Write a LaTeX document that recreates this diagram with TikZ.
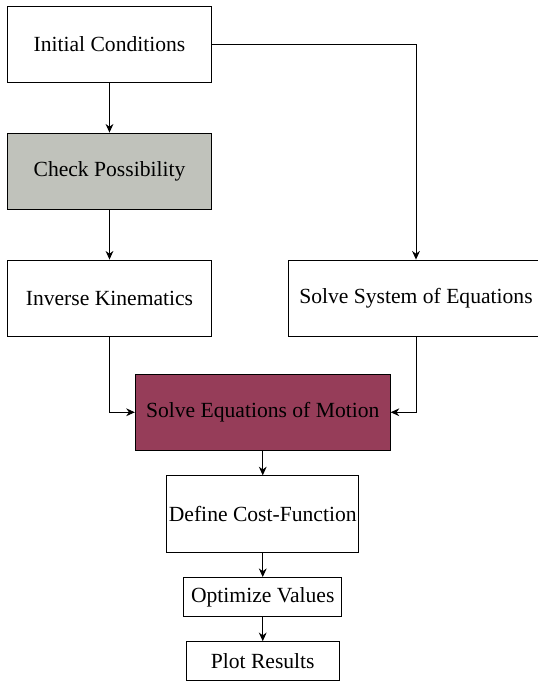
\documentclass[tikz,border=0pt]{standalone}
\usepackage{fontspec}
\setmainfont{Liberation Serif}
\usetikzlibrary{positioning,calc,arrows.meta}
\definecolor{checkgray}{RGB}{192,194,187}
\definecolor{motionred}{RGB}{150,61,89}
\begin{document}
\begin{tikzpicture}[->, >={Stealth[length=4pt,width=3.6pt]}, font=\rmfamily\fontsize{10}{12}\selectfont,
  block/.style={rectangle, draw, minimum width=94.6pt, minimum height=35.4pt},
  wideblock/.style={rectangle, draw, inner xsep=5pt, minimum height=35.4pt},
  smallblock/.style={rectangle, draw, minimum width=70.8pt, minimum height=18pt}]
\useasboundingbox (-50.7pt,20.5pt) rectangle (198.4pt,-295.3pt);

\node[block] (IC) at (0,0) {Initial Conditions};
\node[block, fill=checkgray] (CP) [below=23pt of IC] {Check Possibility};
\node[block] (IK) [below=23pt of CP] {Inverse Kinematics};
\node[wideblock] (SS) [right=35.2pt of IK] {Solve System of Equations};
\coordinate (mid) at ($(IK.south)!0.5!(SS.south)$);
\node[wideblock, fill=motionred] (SEM) [below=17pt of mid] {Solve Equations of Motion};
\node[wideblock, inner xsep=1pt] (DCF) [below=11.3pt of SEM] {Define Cost-Function};
\node[smallblock] (OV) [below=11.3pt of DCF] {Optimize Values};
\node[smallblock] (PR) [below=11.3pt of OV] {Plot Results};

\path
(IC) edge (CP)
(CP) edge (IK)
(SEM) edge (DCF)
(DCF) edge (OV)
(OV) edge (PR);
\draw (IC) -| (SS);
\draw (IK) |- (SEM);
\draw (SS) |- (SEM);
\end{tikzpicture}
\end{document}
